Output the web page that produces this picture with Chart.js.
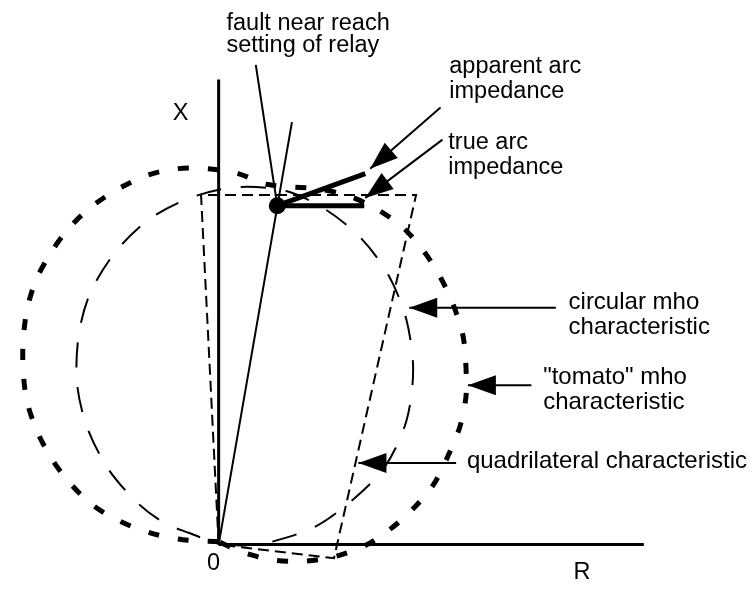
<!DOCTYPE html>
<html>
<head>
<meta charset="utf-8">
<script src="https://cdn.jsdelivr.net/npm/chart.js@4.4.1/dist/chart.umd.min.js"></script>
<style>
html,body{margin:0;padding:0;background:#ffffff;}
#wrap{width:752px;height:590px;position:relative;}
</style>
</head>
<body>
<div id="wrap"><canvas id="c" width="752" height="590"></canvas></div>
<script>
// ---- Data (R / X units) ----
const rAxis = [[0,0],[43.5,0]];
const xAxis = [[0,0],[0,47.9]];
const quadrilateral = [[0,0],[-1.8,36.0],[20.2,36.0],[11.8,-1.4],[0,0]];
const mhoCircle = [
  [2.6,-0.1],[0,0.1],[-3.0,1.2],[-5.5,2.2],[-8.2,4.2],[-11.3,7.8],[-13.5,12.2],
  [-14.5,16.7],[-14.3,21.7],[-13.1,26.0],[-10.5,30.2],[-7.1,33.5],[-2.9,35.7],
  [1.8,36.8],[6.9,36.4],[11.1,34.4],[14.7,31.4],[17.4,27.7],[19.2,23.2],[19.9,18.0],
  [19.2,12.7],[17.0,8.0],[13.7,4.6],[9.8,1.8],[5.1,0.2],[2.6,-0.1]
];
const tomatoMho = [
  [0,0.3],[-3.7,0.5],[-7.0,1.2],[-10.1,2.4],[-12.8,4.0],[-15.1,6.2],[-17.0,8.7],
  [-18.5,11.5],[-19.6,14.7],[-20.0,17.9],[-20.0,21.0],[-19.6,24.2],[-18.7,27.2],
  [-17.2,30.0],[-15.3,32.6],[-13.0,34.8],[-10.3,36.6],[-7.4,38.0],[-4.3,38.7],
  [-1.1,38.7],[2.0,38.2],[4.9,37.1],[10.3,36.6],[13.3,35.9],[16.1,34.6],[18.8,32.7],
  [21.0,30.2],[22.7,27.5],[24.0,24.7],[25.0,21.5],[25.3,18.4],[25.3,15.2],[24.7,12.2],
  [23.5,9.2],[22.0,6.2],[20.1,3.9],[17.7,1.7],[15.0,-0.1],[12.0,-1.2],[8.8,-1.7],
  [5.7,-1.6],[2.5,-0.8],[0,0.3]
];
const faultLine = [[0,0],[7.5,43.5]];
const faultLeader = [[3.8,49.4],[6.0,34.9]];
const faultPoint = [[6.0,34.9]];
const trueArc = [[6.0,34.9],[14.9,34.9]];
const apparentArc = [[6.0,34.9],[15.0,38.2]];
const arrowApparent = [[22.7,45.0],[15.5,38.7]];
const arrowTrue = [[22.9,41.7],[15.0,35.7]];
const arrowMho = [[34.5,24.4],[19.5,24.4]];
const arrowTomato = [[32.0,16.4],[25.5,16.4]];
const arrowQuad = [[24.3,8.4],[14.3,8.4]];

const labelTexts = [
  "fault near reach","setting of relay",
  "apparent arc","impedance",
  "true arc","impedance",
  "circular mho","characteristic",
  "\"tomato\" mho","characteristic",
  "quadrilateral characteristic",
  "X","0","R"
];
const labelAnchors = [
  [0.8,53.0],[0.8,50.7],
  [23.6,48.6],[23.6,46.0],
  [23.5,40.7],[23.5,38.2],
  [35.8,24.3],[35.8,21.7],
  [33.2,16.5],[33.2,14.0],
  [25.4,7.9],
  [-4.7,43.7],[-1.2,-2.6],[36.3,-3.5]
];
const labelSizes = [23.5,23.5, 23.5,23.5, 23.5,23.5, 24,24, 24,24, 24, 23.5,23.5,23.5];

// ---- Build chart ----
const pts = a => a.map(p => ({x:p[0], y:p[1]}));
function line(data, width, dash, tension, extra) {
  return Object.assign({
    data: pts(data), showLine: true, borderColor: '#000', backgroundColor: '#000',
    borderWidth: width, borderDash: dash || [], tension: tension || 0,
    pointRadius: 0, pointHoverRadius: 0, fill: false, borderCapStyle: 'butt'
  }, extra || {});
}

const datasets = [
  line(rAxis, 3),
  line(xAxis, 3),
  line(quadrilateral, 2, [11,6], 0),
  line(mhoCircle, 2, [25,20], 0.3),
  line(tomatoMho, 5, [11,19], 0.3),
  line(faultLine, 2),
  line(faultLeader, 2),
  line(trueArc, 5),
  line(apparentArc, 5),
  line(arrowApparent, 2, null, 0, {arrow:true}),
  line(arrowTrue, 2, null, 0, {arrow:true}),
  line(arrowMho, 2, null, 0, {arrow:true}),
  line(arrowTomato, 2, null, 0, {arrow:true}),
  line(arrowQuad, 2, null, 0, {arrow:true}),
  {data: pts(faultPoint), showLine:false, pointRadius: 8.5, pointHoverRadius: 8.5,
   backgroundColor:'#000', borderColor:'#000', borderWidth:0}
];

const overlay = {
  id: 'overlay',
  afterDatasetsDraw(chart) {
    const ctx = chart.ctx;
    const sx = chart.scales.x, sy = chart.scales.y;
    ctx.save();
    ctx.fillStyle = '#000';
    chart.data.datasets.forEach((ds, i) => {
      if (!ds.arrow) return;
      const el = chart.getDatasetMeta(i).data;
      const a = el[el.length-2], b = el[el.length-1];
      const ang = Math.atan2(b.y - a.y, b.x - a.x);
      const L = 28, W = 10;
      ctx.beginPath();
      ctx.moveTo(b.x, b.y);
      ctx.lineTo(b.x - L*Math.cos(ang) - W*Math.sin(ang), b.y - L*Math.sin(ang) + W*Math.cos(ang));
      ctx.lineTo(b.x - L*Math.cos(ang) + W*Math.sin(ang), b.y - L*Math.sin(ang) - W*Math.cos(ang));
      ctx.closePath();
      ctx.fill();
    });
    ctx.textAlign = 'left';
    ctx.textBaseline = 'alphabetic';
    labelTexts.forEach((t, i) => {
      const p = labelAnchors[i];
      ctx.font = labelSizes[i] + 'px "Liberation Sans", Arial, sans-serif';
      ctx.fillText(t, sx.getPixelForValue(p[0]), sy.getPixelForValue(p[1]));
    });
    ctx.restore();
  }
};

new Chart(document.getElementById('c'), {
  type: 'scatter',
  data: { datasets },
  options: {
    responsive: false,
    animation: false,
    events: [],
    layout: { padding: 0 },
    plugins: { legend: {display:false}, tooltip: {enabled:false} },
    scales: {
      x: { type:'linear', min:-21.5, max:53.7, display:false },
      y: { type:'linear', min:-3.8, max:55.2, display:false }
    }
  },
  plugins: [overlay]
});
</script>
</body>
</html>
